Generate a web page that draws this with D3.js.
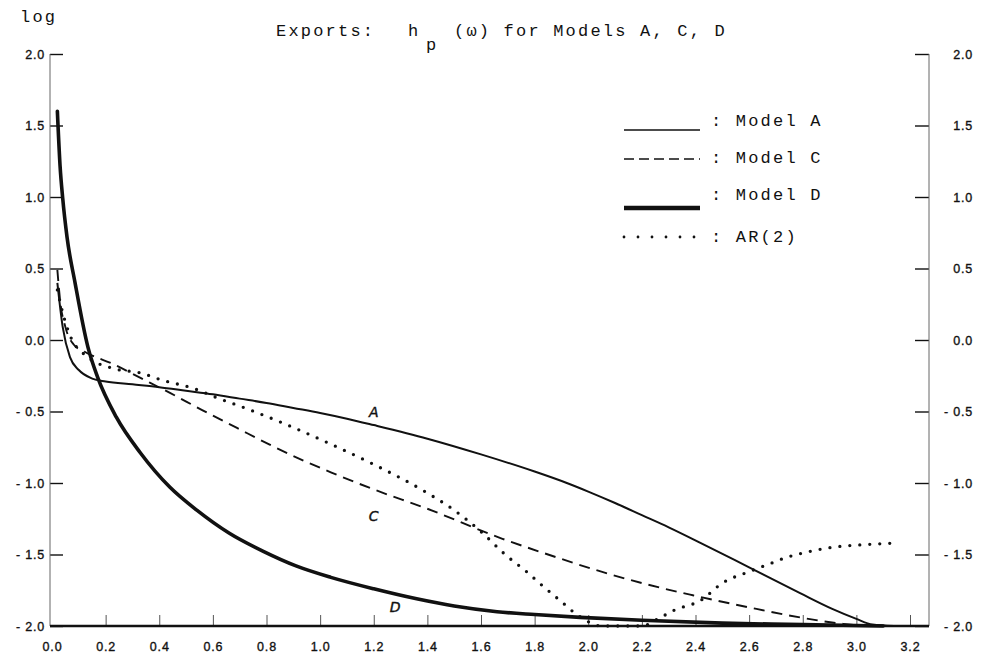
<!DOCTYPE html>
<html>
<head>
<meta charset="utf-8">
<script src="https://cdn.jsdelivr.net/npm/d3@7"></script>
<style>
  body { margin: 0; background: #fff; }
  .mono { font-family: "Liberation Mono", "DejaVu Sans Mono", monospace; }
  .tick-lbl { font-family: "Liberation Sans", Arial, sans-serif; }
</style>
</head>
<body>
<svg id="chart" width="982" height="660"></svg>
<script>
// Log spectra h_p(omega) of exports, read against frequency omega (0..pi)
const modelAFreq = [0.02, 0.04, 0.067, 0.10, 0.15, 0.20, 0.30, 0.40, 0.50, 0.60, 0.70, 0.80, 0.90, 1.00, 1.10, 1.20, 1.40, 1.60, 1.80, 1.92, 2.00, 2.10, 2.20, 2.30, 2.42, 2.60, 2.79, 2.91, 3.00, 3.06, 3.14];
const modelALog  = [0.40, 0.09, -0.12, -0.21, -0.27, -0.29, -0.31, -0.33, -0.355, -0.38, -0.41, -0.44, -0.475, -0.51, -0.55, -0.595, -0.69, -0.80, -0.92, -1.00, -1.06, -1.14, -1.225, -1.31, -1.42, -1.59, -1.77, -1.88, -1.95, -1.99, -2.00];

const modelCFreq = [0.02, 0.03, 0.05, 0.08, 0.12, 0.23, 0.33, 0.44, 0.56, 0.69, 0.81, 0.94, 1.04, 1.20, 1.40, 1.68, 1.85, 2.04, 2.20, 2.39, 2.60, 2.79, 2.95, 3.05];
const modelCLog  = [0.49, 0.28, 0.09, -0.03, -0.08, -0.17, -0.265, -0.37, -0.49, -0.615, -0.73, -0.845, -0.925, -1.045, -1.18, -1.39, -1.50, -1.615, -1.70, -1.785, -1.87, -1.94, -1.985, -2.00];

const modelDFreq = [0.02, 0.03, 0.04, 0.056, 0.086, 0.134, 0.17, 0.24, 0.33, 0.44, 0.54, 0.66, 0.79, 0.91, 1.04, 1.20, 1.36, 1.50, 1.66, 1.80, 1.97, 2.20, 2.50, 2.80, 3.10];
const modelDLog  = [1.60, 1.22, 0.99, 0.72, 0.40, -0.05, -0.26, -0.54, -0.79, -1.03, -1.19, -1.35, -1.48, -1.58, -1.66, -1.74, -1.81, -1.86, -1.90, -1.92, -1.94, -1.96, -1.98, -1.99, -2.00];

const ar2Freq = [0.02, 0.04, 0.07, 0.12, 0.23, 0.33, 0.41, 0.53, 0.61, 0.74, 0.86, 1.03, 1.20, 1.40, 1.50, 1.60, 1.69, 1.77, 1.83, 1.90, 1.95, 2.00, 2.05, 2.12, 2.20, 2.26, 2.32, 2.42, 2.50, 2.60, 2.67, 2.74, 2.80, 2.91, 3.04, 3.15];
const ar2Log  = [0.35, 0.19, 0.02, -0.10, -0.20, -0.23, -0.28, -0.34, -0.40, -0.49, -0.58, -0.72, -0.87, -1.07, -1.19, -1.34, -1.50, -1.62, -1.72, -1.83, -1.91, -1.97, -2.00, -2.00, -2.00, -1.95, -1.89, -1.82, -1.70, -1.62, -1.57, -1.52, -1.49, -1.45, -1.43, -1.42];

const xTicks = [0.0, 0.2, 0.4, 0.6, 0.8, 1.0, 1.2, 1.4, 1.6, 1.8, 2.0, 2.2, 2.4, 2.6, 2.8, 3.0, 3.2];
const yTicks = [2.0, 1.5, 1.0, 0.5, 0.0, -0.5, -1.0, -1.5, -2.0];

const legendNames = [": Model A", ": Model C", ": Model D", ": AR(2)"];
const curveTags = ["A", "C", "D"];
const curveTagFreq = [1.20, 1.20, 1.28];
const curveTagLog = [-0.50, -1.23, -1.87];

const svg = d3.select("#chart");
const ink = "#111";

const x = d3.scaleLinear().domain([0, 3.2]).range([52, 910]);
const y = d3.scaleLinear().domain([-2, 2]).range([626, 54]);
const frameLeft = 50, frameRight = 929;

const yFmt = d => d < 0 ? "- " + Math.abs(d).toFixed(1) : d.toFixed(1);

function styleLabels(sel) {
  sel.attr("class", "tick-lbl").attr("font-size", 12.5)
    .attr("letter-spacing", 0.8).attr("fill", ink).attr("font-family", null)
    .attr("stroke", ink).attr("stroke-width", 0.35);
}

// bottom axis: ticks pointing up into the plot
const gx = svg.append("g").attr("transform", `translate(0,${y(-2)})`)
  .call(d3.axisBottom(x).tickValues(xTicks).tickSize(-11).tickPadding(16).tickFormat(d3.format(".1f")));
gx.select(".domain").remove();
gx.selectAll(".tick line").attr("stroke", "#555").attr("stroke-width", 1)
  .filter(d => d === 0).remove();
styleLabels(gx.selectAll(".tick text"));

// left axis with inward ticks
const gl = svg.append("g").attr("transform", `translate(${frameLeft},0)`)
  .call(d3.axisLeft(y).tickValues(yTicks).tickSize(-13).tickPadding(5).tickFormat(yFmt));
gl.select(".domain").remove();
gl.selectAll(".tick line").attr("stroke", ink).attr("stroke-width", 1.4);
styleLabels(gl.selectAll(".tick text"));

// right axis with inward ticks, labels right aligned
const gr = svg.append("g").attr("transform", `translate(${frameRight},0)`)
  .call(d3.axisRight(y).tickValues(yTicks).tickSize(-14).tickPadding(5).tickFormat(yFmt));
gr.select(".domain").remove();
gr.selectAll(".tick line").attr("stroke", ink).attr("stroke-width", 1.4);
styleLabels(gr.selectAll(".tick text"));
gr.selectAll(".tick text").attr("text-anchor", "end").attr("x", 44);

// frame lines
svg.append("line").attr("x1", frameLeft).attr("x2", frameLeft).attr("y1", y(2)).attr("y2", y(-2))
  .attr("stroke", "#666").attr("stroke-width", 1);
svg.append("line").attr("x1", frameRight).attr("x2", frameRight).attr("y1", y(2)).attr("y2", y(-2))
  .attr("stroke", "#666").attr("stroke-width", 1);
svg.append("line").attr("x1", frameLeft).attr("x2", frameRight).attr("y1", y(-2)).attr("y2", y(-2))
  .attr("stroke", ink).attr("stroke-width", 2.4);

// curves
const line = d3.line().x(d => x(d[0])).y(d => y(d[1])).curve(d3.curveMonotoneX);
const pairs = (fx, fy) => fx.map((f, i) => [f, fy[i]]);

const styles = {
  A:  { w: 2.0, dash: null, cap: "butt" },
  C:  { w: 1.9, dash: "11 7", cap: "butt" },
  D:  { w: 3.6, dash: null, cap: "round" },
  AR: { w: 3.3, dash: "0 10", cap: "round" }
};

const series = [
  { key: "A", data: pairs(modelAFreq, modelALog) },
  { key: "C", data: pairs(modelCFreq, modelCLog) },
  { key: "D", data: pairs(modelDFreq, modelDLog) },
  { key: "AR", data: pairs(ar2Freq, ar2Log) }
];

svg.append("g").selectAll("path").data(series).join("path")
  .attr("d", s => line(s.data))
  .attr("fill", "none")
  .attr("stroke", ink)
  .attr("stroke-width", s => styles[s.key].w)
  .attr("stroke-dasharray", s => styles[s.key].dash)
  .attr("stroke-linecap", s => styles[s.key].cap)
  .attr("stroke-linejoin", "round");

// hand-lettered curve tags
svg.append("g").selectAll("text").data(curveTags).join("text")
  .attr("x", (d, i) => x(curveTagFreq[i]))
  .attr("y", (d, i) => y(curveTagLog[i]) + 5)
  .attr("text-anchor", "middle")
  .attr("font-family", "DejaVu Sans, sans-serif")
  .attr("font-size", 14)
  .attr("font-style", "italic")
  .attr("fill", ink)
  .attr("stroke", ink).attr("stroke-width", 0.4)
  .text(d => d);

// legend
const legendKeys = ["A", "C", "D", "AR"];
const legendY = [130, 159, 208, 237];
const legendTextY = [126, 163, 200, 242];
const lg = svg.append("g");
legendKeys.forEach((k, i) => {
  lg.append("line")
    .attr("x1", 624).attr("x2", k === "AR" ? 696 : 700)
    .attr("y1", legendY[i]).attr("y2", legendY[i])
    .attr("stroke", ink)
    .attr("stroke-width", k === "D" ? 4.5 : (k === "AR" ? 2.8 : 1.5))
    .attr("stroke-dasharray", k === "C" ? "10 5" : (k === "AR" ? "0 14" : null))
    .attr("stroke-linecap", k === "AR" ? "round" : "butt");
  lg.append("text").attr("class", "mono")
    .attr("x", 711).attr("y", legendTextY[i])
    .attr("font-size", 17).attr("letter-spacing", 2.2)
    .attr("fill", ink)
    .text(legendNames[i]);
});

// title and y label
svg.append("text").attr("class", "mono").attr("x", 20).attr("y", 22)
  .attr("font-size", 17).attr("letter-spacing", 2.2).attr("fill", ink).text("log");
const title = svg.append("text").attr("class", "mono").attr("y", 36)
  .attr("font-size", 17).attr("letter-spacing", 2.2).attr("fill", ink);
title.append("tspan").attr("x", 276).text("Exports:");
title.append("tspan").attr("x", 408).text("h");
title.append("tspan").attr("x", 426).attr("y", 50).text("p");
title.append("tspan").attr("x", 454).attr("y", 36).text("(\u03c9) for Models A, C, D");
</script>
</body>
</html>
